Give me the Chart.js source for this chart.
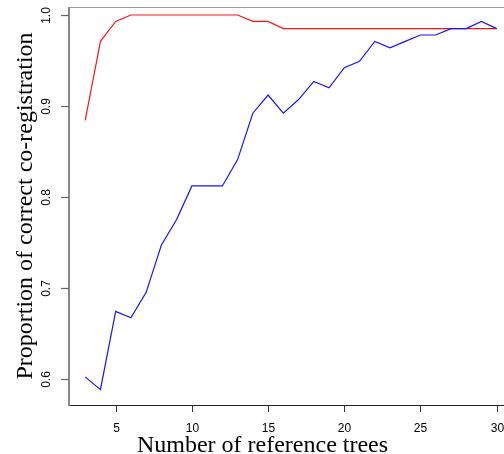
<!DOCTYPE html>
<html lang="en">
<head>
<meta charset="utf-8"/>
<title>Co-registration</title>
<script src="https://cdn.jsdelivr.net/npm/chart.js@4.4.1/dist/chart.umd.min.js"></script>
<style>
  body { margin: 0; background: #fff; }
</style>
</head>
<body>
<div style="position: relative; width: 504px; height: 454px">
    <canvas id="myChart" width="504" height="454"></canvas>
</div>
<script>
// number of reference trees (x)
const nTrees = [3,4,5,6,7,8,9,10,11,12,13,14,15,16,17,18,19,20,21,22,23,24,25,26,27,28,29,30];
// red line
const redSeries = [0.884,0.971,0.993,1.0,1.0,1.0,1.0,1.0,1.0,1.0,1.0,0.993,0.993,0.985,
                   0.985,0.985,0.985,0.985,0.985,0.985,0.985,0.985,0.985,0.985,0.985,0.985,0.985,0.985];
// blue line
const blueSeries = [0.602,0.588,0.674,0.667,0.695,0.747,0.775,0.812,0.812,0.812,0.841,0.892,0.912,0.892,
                    0.907,0.927,0.920,0.942,0.949,0.971,0.964,0.971,0.978,0.978,0.985,0.985,0.993,0.985];
const xTicks = [5,10,15,20,25,30];
const yTicks = ['0.6','0.7','0.8','0.9','1.0'];
const xTitle = 'Number of reference trees';
const yTitle = 'Proportion of correct co-registration';

function pts(vals) {
    return nTrees.map(function(x, i) { return {x: x, y: vals[i]}; });
}

// axes drawn by hand, R style (rotated y labels)
const rAxes = {
    id: 'rAxes',
    beforeDatasetsDraw: function(chart) {
        const c = chart.ctx, a = chart.chartArea;
        c.save();
        c.lineWidth = 1;
        c.strokeStyle = '#9a9a9a';
        c.beginPath(); c.moveTo(a.left, a.top + 0.5); c.lineTo(a.right, a.top + 0.5); c.stroke();
        c.strokeStyle = '#222';
        c.beginPath(); c.moveTo(a.left, a.bottom + 0.5); c.lineTo(a.right, a.bottom + 0.5); c.stroke();
        c.lineWidth = 2;
        c.strokeStyle = '#888';
        c.beginPath(); c.moveTo(a.left, a.top); c.lineTo(a.left, a.bottom + 1); c.stroke();
        c.restore();
    },
    afterDraw: function(chart) {
        const c = chart.ctx, a = chart.chartArea;
        const xs = chart.scales.x, ys = chart.scales.y;
        c.save();
        c.fillStyle = '#000';
        c.font = '12px "Liberation Sans", Arial, sans-serif';
        c.textAlign = 'center';
        c.textBaseline = 'middle';
        // x ticks
        xTicks.forEach(function(v) {
            const px = Math.round(xs.getPixelForValue(v)) + 0.5;
            c.strokeStyle = '#333';
            c.lineWidth = 1;
            c.beginPath(); c.moveTo(px, a.bottom); c.lineTo(px, a.bottom + 7); c.stroke();
            c.fillText(String(v), px, a.bottom + 24);
        });
        // y ticks
        yTicks.forEach(function(t) {
            const py = Math.round(ys.getPixelForValue(parseFloat(t))) + 0.5;
            c.strokeStyle = '#666';
            c.lineWidth = 1.2;
            c.beginPath(); c.moveTo(a.left - 8, py); c.lineTo(a.left, py); c.stroke();
            c.save();
            c.translate(a.left - 22, py);
            c.rotate(-Math.PI / 2);
            c.fillText(t, 0, 0);
            c.restore();
        });
        // titles
        c.font = '24px "Liberation Serif", "Times New Roman", serif';
        c.textBaseline = 'alphabetic';
        c.fillText(xTitle, 262.5, 452);
        c.save();
        c.translate(32, (a.top + a.bottom) / 2);
        c.rotate(-Math.PI / 2);
        c.fillText(yTitle, 0, 0);
        c.restore();
        c.restore();
    }
};

var ctx = document.getElementById('myChart').getContext('2d');
var chart = new Chart(ctx, {
    type: 'line',
    data: {
        datasets: [
            {
                label: 'blue',
                data: pts(blueSeries),
                borderColor: 'rgb(20,20,255)',
                borderWidth: 1.2,
                pointRadius: 0,
                fill: false,
                tension: 0
            },
            {
                label: 'red',
                data: pts(redSeries),
                borderColor: 'rgb(255,20,20)',
                borderWidth: 1.2,
                pointRadius: 0,
                fill: false,
                tension: 0
            }
        ]
    },
    options: {
        responsive: false,
        animation: false,
        devicePixelRatio: 1,
        layout: { padding: { left: 69, top: 7, right: 0, bottom: 49 } },
        plugins: {
            legend: { display: false },
            tooltip: { enabled: false }
        },
        scales: {
            x: { type: 'linear', display: false, min: 1.937, max: 30.48 },
            y: { type: 'linear', display: false, min: 0.5711, max: 1.0088 }
        }
    },
    plugins: [rAxes]
});
</script>
</body>
</html>
